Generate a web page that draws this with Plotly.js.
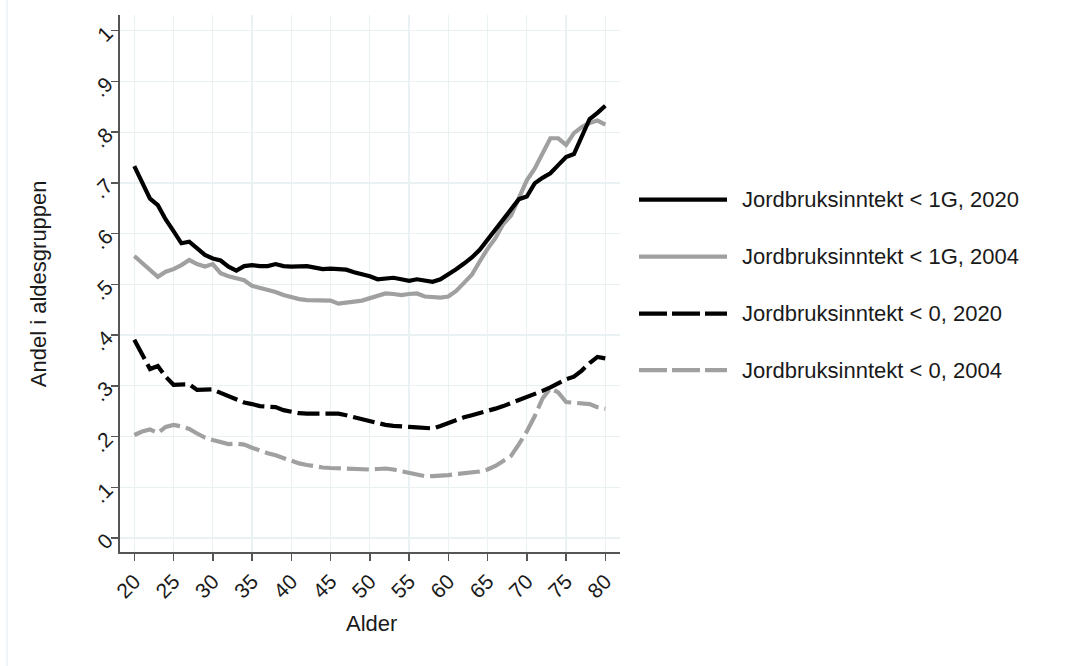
<!DOCTYPE html>
<html>
<head>
<meta charset="utf-8">
<script src="https://cdn.plot.ly/plotly-3.0.1.min.js"></script>
<style>
html,body{margin:0;padding:0;background:#fff;}
#chart{width:1085px;height:666px;}
</style>
</head>
<body>
<div id="chart"></div>
<script>
// Ages (x axis)
var ages = [20,21,22,23,24,25,26,27,28,29,30,31,32,33,34,35,36,37,38,39,40,41,42,43,44,45,46,47,48,49,50,51,52,53,54,55,56,57,58,59,60,61,62,63,64,65,66,67,68,69,70,71,72,73,74,75,76,77,78,79,80];

// Jordbruksinntekt < 1G, 2020
var under1G_2020 = [.733,.700,.669,.656,.628,.605,.581,.584,.570,.558,.551,.547,.535,.527,.536,.538,.536,.536,.540,.536,.535,.535,.536,.533,.530,.531,.530,.529,.524,.521,.516,.510,.512,.513,.510,.507,.510,.508,.505,.510,.519,.530,.541,.553,.568,.588,.607,.627,.649,.668,.673,.699,.710,.719,.735,.751,.757,.790,.826,.838,.852];

// Jordbruksinntekt < 1G, 2004
var under1G_2004 = [.556,.542,.528,.515,.525,.530,.538,.548,.540,.535,.540,.522,.516,.512,.508,.497,.493,.490,.485,.479,.474,.471,.469,.469,.469,.468,.462,.465,.466,.468,.472,.478,.482,.481,.479,.481,.482,.476,.475,.474,.476,.487,.503,.519,.545,.570,.591,.619,.636,.670,.705,.728,.760,.788,.788,.775,.798,.810,.818,.823,.815];

// Jordbruksinntekt < 0, 2020
var under0_2020 = [.391,.360,.333,.339,.318,.302,.303,.303,.292,.293,.293,.286,.280,.272,.267,.264,.260,.259,.258,.252,.248,.246,.245,.245,.245,.245,.245,.242,.238,.235,.231,.226,.223,.221,.219,.219,.218,.217,.216,.221,.227,.233,.238,.242,.246,.249,.255,.260,.266,.272,.278,.282,.290,.297,.305,.313,.318,.330,.345,.357,.354];

// Jordbruksinntekt < 0, 2004
var under0_2004 = [.203,.210,.214,.207,.219,.223,.220,.215,.206,.198,.193,.188,.185,.186,.184,.178,.172,.167,.163,.157,.151,.147,.144,.141,.139,.138,.137,.136,.135,.135,.135,.136,.137,.135,.132,.128,.124,.122,.122,.122,.124,.126,.127,.128,.131,.135,.142,.152,.162,.185,.210,.240,.275,.295,.287,.268,.266,.266,.264,.258,.255];

var seriesNames = ["Jordbruksinntekt < 1G, 2020","Jordbruksinntekt < 1G, 2004","Jordbruksinntekt < 0, 2020","Jordbruksinntekt < 0, 2004"];

var xTickVals = [20,25,30,35,40,45,50,55,60,65,70,75,80];
var yTickVals = [0,0.1,0.2,0.3,0.4,0.5,0.6,0.7,0.8,0.9,1];
var yTickText = ["0",".1",".2",".3",".4",".5",".6",".7",".8",".9","1"];

var BLACK = "#000000", GRAY = "#a0a0a0";
var plotDash = "22px,6px", legendDash = "28px,5px";
var styles = [
  {color:BLACK, dash:"solid"},
  {color:GRAY, dash:"solid"},
  {color:BLACK, dash:plotDash},
  {color:GRAY, dash:plotDash}
];
var allY = [under1G_2020, under1G_2004, under0_2020, under0_2004];

var traces = [];
var order = [3,2,1,0];
order.forEach(function(i){
  traces.push({
    x: ages, y: allY[i], type:"scatter", mode:"lines", name: seriesNames[i],
    line:{color:styles[i].color, width:4.2, dash:styles[i].dash, shape:"linear"},
    showlegend:false, hoverinfo:"skip"
  });
});

var L=120, R=620, T=15, B=551.7, W=1085, H=666;
function px2x(p){ return (p-L)/(R-L); }
function px2y(p){ return (B-p)/(B-T); }

var FONT = "Liberation Sans, Arial, Helvetica, sans-serif";
var TXT = "#1a1a1a";
var shapes = [], annotations = [];
var legendY = [199.5, 256.5, 313.5, 370];
seriesNames.forEach(function(n,i){
  shapes.push({type:"line", xref:"paper", yref:"paper",
    x0:px2x(639), x1:px2x(727), y0:px2y(legendY[i]), y1:px2y(legendY[i]),
    line:{color:styles[i].color, width:4.2, dash: styles[i].dash==="solid" ? "solid" : legendDash}});
  annotations.push({xref:"paper", yref:"paper", x:px2x(740), y:px2y(legendY[i]),
    xanchor:"left", yanchor:"middle", text:n, showarrow:false,
    font:{family:FONT, size:22, color:TXT}});
});
annotations.push({xref:"paper", yref:"paper", x:px2x(371), y:px2y(623), xanchor:"center", yanchor:"middle",
  text:"Alder", showarrow:false, font:{family:FONT, size:22, color:TXT}});
annotations.push({xref:"paper", yref:"paper", x:px2x(38), y:px2y(284), xanchor:"center", yanchor:"middle",
  text:"Andel i aldesgruppen", textangle:-90, showarrow:false, font:{family:FONT, size:22, color:TXT}});
shapes.push({type:"line", xref:"paper", yref:"paper", x0:px2x(7), x1:px2x(7), y0:px2y(666), y1:px2y(0),
  line:{color:"#eef2f4", width:1.5}});

var layout = {
  width:W, height:H,
  margin:{l:L, r:W-R, t:T, b:H-B, pad:0},
  paper_bgcolor:"#ffffff", plot_bgcolor:"#ffffff",
  showlegend:false,
  font:{family:FONT, color:TXT},
  xaxis:{
    range:[18.18, 81.87], tickmode:"array", tickvals:xTickVals,
    tickangle:-45, tickfont:{family:FONT, size:21, color:TXT},
    ticks:"outside", ticklen:7, tickwidth:1.5, tickcolor:"#555555",
    showline:true, linecolor:"#555555", linewidth:2,
    showgrid:true, gridcolor:"#e9f1f3", gridwidth:1.3, zeroline:false,
    automargin:false, fixedrange:true
  },
  yaxis:{
    range:[-0.0276, 1.031], tickmode:"array", tickvals:yTickVals, ticktext:yTickText,
    tickangle:-45, tickfont:{family:FONT, size:21, color:TXT},
    ticks:"outside", ticklen:7, tickwidth:1.5, tickcolor:"#555555",
    showline:true, linecolor:"#555555", linewidth:2,
    showgrid:true, gridcolor:"#e9f1f3", gridwidth:1.3, zeroline:false,
    automargin:false, fixedrange:true
  },
  shapes:shapes, annotations:annotations
};

Plotly.newPlot("chart", traces, layout, {displayModeBar:false, staticPlot:true});
</script>
</body>
</html>
